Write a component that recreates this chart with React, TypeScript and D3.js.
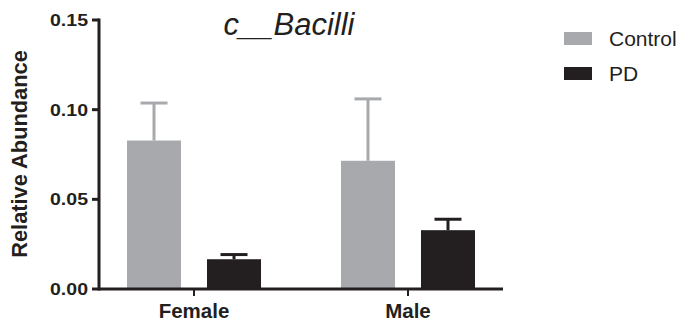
import React from "react";
import * as d3 from "d3";

const categories = ["Female", "Male"];
const groups = ["Control", "PD"];
const controlValues = [0.0828, 0.0715];
const controlErrors = [0.0209, 0.0345];
const pdValues = [0.0166, 0.0328];
const pdErrors = [0.0026, 0.0061];
const yTicks = [0, 0.05, 0.1, 0.15];
const title = "c__Bacilli";
const yLabel = "Relative Abundance";
const colors = ["#a7a9ac", "#231f20"];

const W = 683;
const H = 326;
const FONT = "'Liberation Sans', Arial, Helvetica, sans-serif";

export default function App() {
  const y = d3.scaleLinear().domain([0, 0.15]).range([289, 20]);
  const x0 = d3.scalePoint<string>().domain(categories).range([99, 503]).padding(0.444);
  const x1 = d3.scaleBand<string>().domain(groups).range([-67, 67]).paddingInner(0.325).paddingOuter(0);
  const bw = x1.bandwidth();
  const series = [
    { key: groups[0], values: controlValues, errors: controlErrors, color: colors[0] },
    { key: groups[1], values: pdValues, errors: pdErrors, color: colors[1] },
  ];
  const axisColor = "#231f20";
  return (
    <svg width={W} height={H} style={{ position: "absolute", left: 0, top: 0, background: "#fff" }} fontFamily={FONT}>
      <rect x={0} y={0} width={W} height={H} fill="#fff" />
      {series.map((s) =>
        categories.map((c, i) => {
          const cx = (x0(c) as number) + (x1(s.key) as number);
          const top = y(s.values[i]);
          const errTop = y(s.values[i] + s.errors[i]);
          const mid = cx + bw / 2;
          return (
            <g key={s.key + c}>
              <line x1={mid} x2={mid} y1={top} y2={errTop} stroke={s.color} strokeWidth={3} />
              <line x1={mid - bw / 4} x2={mid + bw / 4} y1={errTop} y2={errTop} stroke={s.color} strokeWidth={3} />
              <rect x={cx} y={top} width={bw} height={y(0) - top} fill={s.color} />
            </g>
          );
        })
      )}
      {/* Y axis */}
      <line x1={99} x2={99} y1={y(0.15) - 1.5} y2={y(0) + 1.5} stroke={axisColor} strokeWidth={3} />
      {yTicks.map((t) => (
        <g key={t}>
          <line x1={92} x2={99} y1={y(t)} y2={y(t)} stroke={axisColor} strokeWidth={3} />
          <text
            transform={`translate(88,${y(t) + 6}) scale(1.15,1)`}
            textAnchor="end"
            fontSize={17}
            fontWeight="bold"
            fill={axisColor}
          >
            {d3.format(".2f")(t)}
          </text>
        </g>
      ))}
      {/* X axis */}
      <line x1={99} x2={503} y1={y(0)} y2={y(0)} stroke={axisColor} strokeWidth={3} />
      {categories.map((c) => (
        <g key={c}>
          <line x1={x0(c)} x2={x0(c)} y1={y(0)} y2={y(0) + 7} stroke={axisColor} strokeWidth={2} />
          <text x={x0(c)} y={318} textAnchor="middle" fontSize={20.5} fontWeight="bold" fill={axisColor}>
            {c}
          </text>
        </g>
      ))}
      {/* Y label */}
      <text
        transform={`translate(27,154) rotate(-90)`}
        textAnchor="middle"
        fontSize={21.8}
        fontWeight="bold"
        fill={axisColor}
      >
        {yLabel}
      </text>
      {/* Title */}
      <text x={289} y={35} textAnchor="middle" fontSize={31} fontStyle="italic" fill={axisColor}>
        {title}
      </text>
      {/* Legend */}
      {groups.map((g, i) => (
        <g key={g} transform={`translate(564,${32 + i * 35})`}>
          <rect x={0} y={0} width={28} height={13} fill={colors[i]} />
          <text x={45} y={14} fontSize={21} fill={axisColor}>
            {g}
          </text>
        </g>
      ))}
    </svg>
  );
}
